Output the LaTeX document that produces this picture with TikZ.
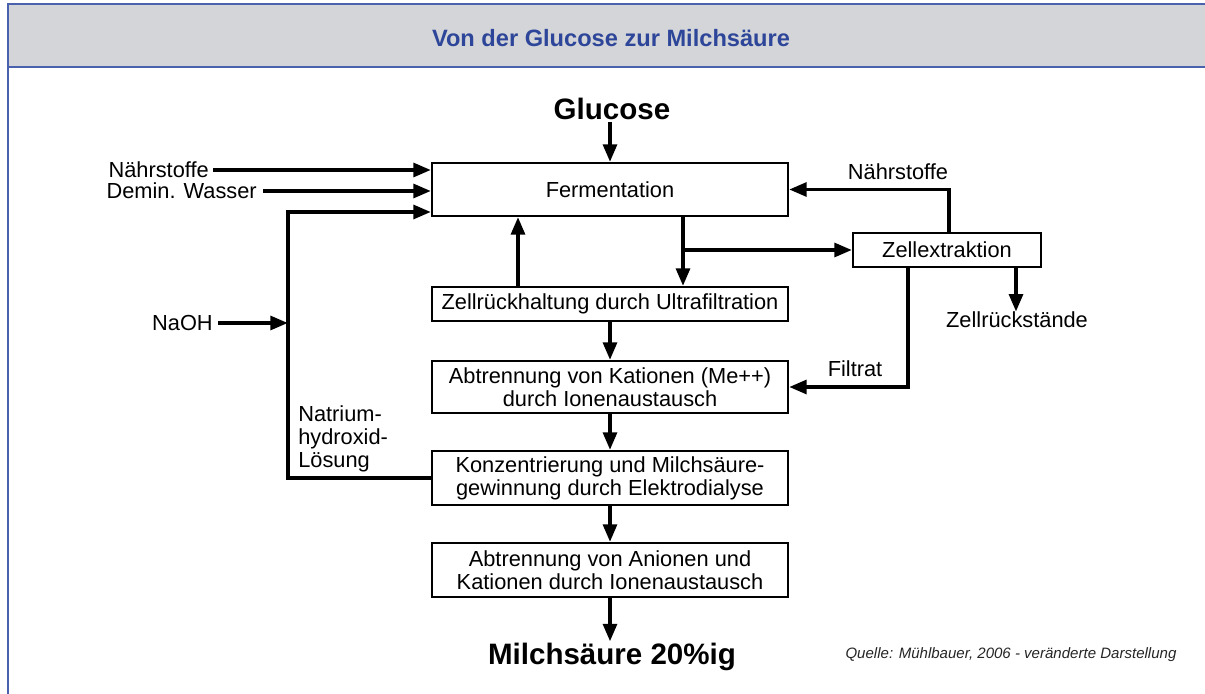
\documentclass[tikz,border=0pt]{standalone}
\usepackage{fontspec}
\setmainfont{Liberation Sans}
\usepackage{tikz}
\usetikzlibrary{positioning,arrows.meta}

\definecolor{rahmenblau}{HTML}{4A62AE}
\definecolor{titelblau}{HTML}{2E4699}
\definecolor{kopfgrau}{HTML}{D4D5D8}

\begin{document}
\begin{tikzpicture}[x=0.025cm, y=-0.025cm,
            box/.style={draw, line width=1.4pt, minimum width=8.9cm, align=center,
                        font=\fontsize{15.5}{16.5}\selectfont},
            label/.style={font=\fontsize{15.5}{16.5}\selectfont, inner sep=0pt},
            gross/.style={font=\fontsize{21}{24}\selectfont\bfseries, inner sep=1pt},
            pfeil/.style={line width=2.8pt, -{Triangle[length=4.4mm, width=3.4mm]}},]

        \useasboundingbox (0,0) rectangle (1205,694);
        \clip (0,0) rectangle (1205,694);

        % Rahmen und Kopf
        \fill[kopfgrau] (8,4) rectangle (1220,67);
        \draw[rahmenblau, line width=1.5pt] (1220,4) -- (8,4) -- (8,710);
        \draw[rahmenblau, line width=1.5pt] (8,67) -- (1220,67);
        \node[font=\fontsize{16.8}{19}\selectfont\bfseries, text=titelblau] (titel) at (611,38) {Von der Glucose zur Milchsäure};

        % Prozessschritte
        \node[box, minimum height=1.325cm] (ferm)      at (610,189.5) {Fermentation};
        \node[box, minimum height=0.85cm]  (zellrueck) at (610,304)   {Zellrückhaltung durch Ultrafiltration};
        \node[box, minimum height=1.3cm]   (kat)       at (610,387)   {Abtrennung von Kationen (Me++)\\durch Ionenaustausch};
        \node[box, minimum height=1.35cm]  (konz)      at (610,478)   {Konzentrierung und Milchsäure-\\gewinnung durch Elektrodialyse};
        \node[box, minimum height=1.35cm]  (anion)     at (610,570)   {Abtrennung von Anionen und\\Kationen durch Ionenaustausch};
        \node[box, minimum height=0.85cm, minimum width=4.7cm] (zellex) at (947,250) {Zellextraktion};

        % Ein- und Ausgaenge
        \node[gross] (glucose) at (612,109) {Glucose};
        \node[gross] (milch)   at (612,657) {Milchsäure 20\%ig};
        \node[label, anchor=east] (naehrL) at (209,170) {Nährstoffe};
        \node[label, anchor=east] (wasser) at (257,191) {Demin. Wasser};
        \node[label, anchor=east] (naoh)   at (213,323) {NaOH};
        \node[label, anchor=north west, align=left] (natrium) at (298,405) {Natrium-\\hydroxid-\\Lösung};
        \node[label] (naehrR)  at (898,172) {Nährstoffe};
        \node[label] (reste)   at (1017,320) {Zellrückstände};
        \node[label] (filtrat) at (855,369) {Filtrat};
        \node[font=\fontsize{10.7}{12}\selectfont\itshape, text=black!85] (quelle) at (1011,655) {Quelle: Mühlbauer, 2006 - veränderte Darstellung};

        % Hilfspunkte
        \coordinate (naohknick) at (288,212);
        \coordinate (rueckx)    at (518,0);
        \coordinate (abzweig)   at (683,250);
        \coordinate (naehrx)    at (949,0);
        \coordinate (restex)    at (1016,0);
        \coordinate (filtx)     at (908,0);

        % Verbindungen
        \draw[pfeil] (ferm.north |- glucose.south) -- (ferm.north);
        \draw[pfeil] (naehrL.east) ++(4,0) -- (naehrL.east -| ferm.west);
        \draw[pfeil] (wasser.east) ++(6,0) -- (wasser.east -| ferm.west);
        \draw[pfeil] (konz.west) -| (naohknick) -- (naohknick -| ferm.west);
        \draw[pfeil] (naoh.east) ++(5,0) -- (naoh.east -| naohknick);
        \draw[pfeil] (rueckx |- zellrueck.north) -- (rueckx |- ferm.south);
        \draw[pfeil] (abzweig |- ferm.south) -- (abzweig |- zellrueck.north);
        \draw[pfeil] (abzweig) -- (zellex.west);
        \draw[pfeil] (naehrx |- zellex.north) |- (ferm.east);
        \draw[pfeil] (restex |- zellex.south) -- (restex |- reste.north);
        \draw[pfeil] (filtx |- zellex.south) |- (kat.east);
        \draw[pfeil] (zellrueck.south) -- (kat.north);
        \draw[pfeil] (kat.south) -- (konz.north);
        \draw[pfeil] (konz.south) -- (anion.north);
        \draw[pfeil] (anion.south) -- (anion.south |- milch.north);
    \end{tikzpicture}
\end{document}
